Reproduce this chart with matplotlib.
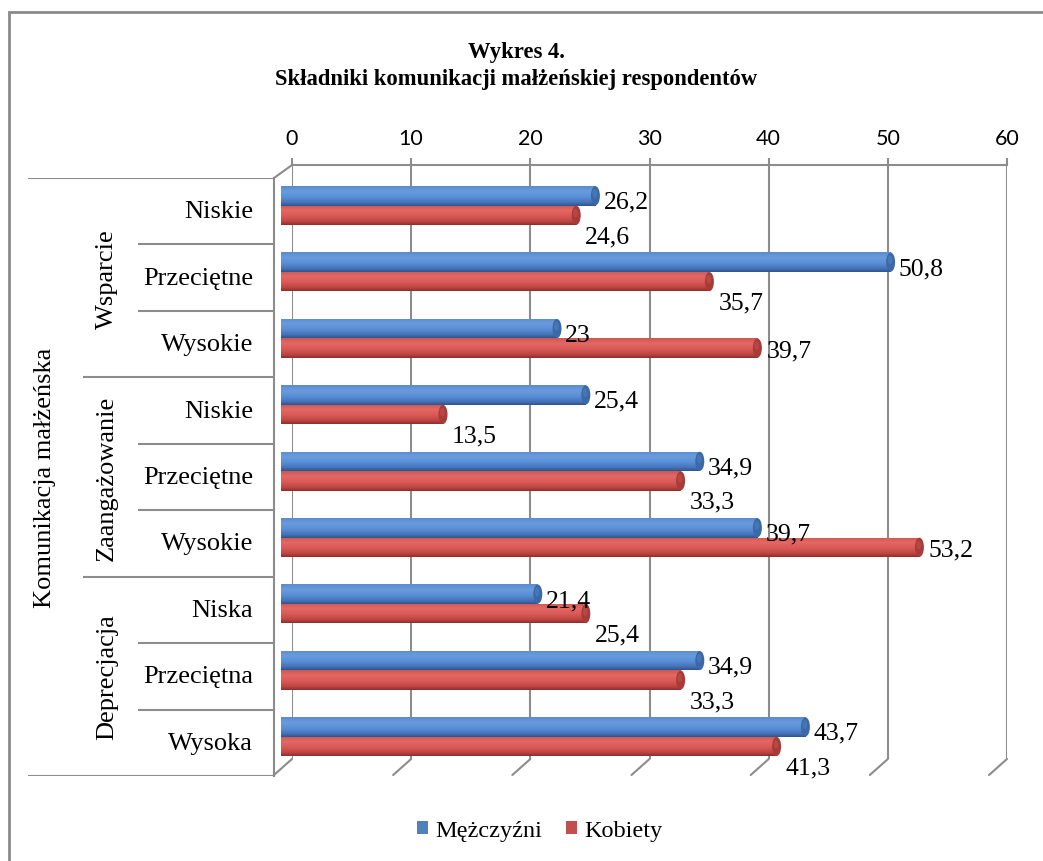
import matplotlib
matplotlib.use("Agg")
import matplotlib.pyplot as plt
import numpy as np
from matplotlib.patches import Rectangle, Ellipse, Patch
from matplotlib.colors import LinearSegmentedColormap

# ---------------- data ----------------
groups = ["Wsparcie", "Zaangażowanie", "Deprecjacja"]
levels = ["Niskie", "Przeciętne", "Wysokie",
          "Niskie", "Przeciętne", "Wysokie",
          "Niska", "Przeciętna", "Wysoka"]
men = [26.2, 50.8, 23.0, 25.4, 34.9, 39.7, 21.4, 34.9, 43.7]
women = [24.6, 35.7, 39.7, 13.5, 33.3, 53.2, 25.4, 33.3, 41.3]
series_names = ["Mężczyźni", "Kobiety"]
xticks = [0, 10, 20, 30, 40, 50, 60]
title = "Wykres 4.\nSkładniki komunikacji małżeńskiej respondentów"
axis_title = "Komunikacja małżeńska"

# ---------------- figure ----------------
W, H = 1043, 862
fig = plt.figure(figsize=(W / 100, H / 100), dpi=100)
fig.patch.set_facecolor("white")


def rect(x0, y0, x1, y1):
    return [x0 / W, 1 - y1 / H, (x1 - x0) / W, (y1 - y0) / H]


GRID = "#8c8c8c"
SERIF = "Liberation Serif"
LAB = 19

# outer chart frame
fig.add_artist(Rectangle((9 / W, 1 - 880 / H), 1060 / W, 867 / H,
                         transform=fig.transFigure, fill=False,
                         edgecolor="#8a8a8a", lw=2))

# title
fig.text(516 / W, 1 - 66 / H, title, ha="center", va="center",
         fontsize=16.3, fontweight="bold", family=SERIF, linespacing=1.4)

# ---------------- back wall (gridlines, top axis) ----------------
axb = fig.add_axes(rect(292, 166, 1007, 760))
axb.set_xlim(0, 60)
axb.set_ylim(0, 1)
for s in ["left", "right", "bottom"]:
    axb.spines[s].set_visible(False)
axb.spines["top"].set_color(GRID)
axb.spines["top"].set_linewidth(1.5)
axb.set_yticks([])
axb.xaxis.tick_top()
axb.set_xticks(xticks)
axb.set_xticklabels([str(t) for t in xticks], family="Lato", fontsize=15.5)
axb.tick_params(axis="x", length=5, width=1.5, color=GRID, pad=7)
axb.grid(axis="x", color=GRID, lw=1.5)
axb.set_facecolor("none")
for t in xticks:
    axb.annotate("", xy=(t, 0), xycoords=("data", "axes fraction"),
                 xytext=(-18, -16), textcoords="offset pixels",
                 arrowprops=dict(arrowstyle="-", color=GRID, lw=1.5,
                                 shrinkA=0, shrinkB=0))
# top-left depth edge
axb.annotate("", xy=(0, 1), xycoords="axes fraction",
             xytext=(-18, -13), textcoords="offset pixels",
             arrowprops=dict(arrowstyle="-", color=GRID, lw=1.5,
                             shrinkA=0, shrinkB=0))

# ---------------- front panel: category labels and brackets ----------------
n = len(levels)
axf = fig.add_axes(rect(0, 179, 274, 777))
axf.set_xlim(0, 1)
axf.set_ylim(n - 0.5, -0.5)
axf.set_facecolor("none")
for s in ["left", "top", "bottom"]:
    axf.spines[s].set_visible(False)
axf.spines["right"].set_color(GRID)
axf.spines["right"].set_linewidth(1.5)
axf.set_xticks([])
axf.set_yticks([])

x_outer, x_group, x_sub = 29 / 274, 84 / 274, 139 / 274
per_group = n // len(groups)
for b in range(n + 1):
    if b == 0 or b == n:
        xm = x_outer
    elif b % per_group == 0:
        xm = x_group
    else:
        xm = x_sub
    axf.axhline(b - 0.5, xmin=xm, xmax=1, color=GRID, lw=1.5)

for i, lab in enumerate(levels):
    axf.text(253 / 274, i, lab, ha="right", va="center",
             fontsize=LAB, family=SERIF)
for g, name in enumerate(groups):
    yc = g * per_group + (per_group - 1) / 2
    axf.text(107 / 274, yc, name, ha="center", va="center", rotation=90,
             fontsize=LAB, family=SERIF)
axf.text(45 / 274, (n - 1) / 2, axis_title, ha="center", va="center",
         rotation=90, fontsize=LAB, family=SERIF)

# ---------------- bars ----------------
ax = fig.add_axes(rect(281, 173.3, 1001, 770.9))
ax.set_xlim(0, 60)
ax.set_ylim(n - 0.5, -0.5)
ax.set_facecolor("none")
ax.axis("off")

h = 0.294
y = np.arange(n)

blue_cmap = LinearSegmentedColormap.from_list(
    "b", [(0, "#5a8bcc"), (0.25, "#6a9bdd"), (0.55, "#5a8fd6"),
          (0.82, "#4674bb"), (1.0, "#2e548b")])
red_cmap = LinearSegmentedColormap.from_list(
    "r", [(0, "#cc5753"), (0.25, "#e46864"), (0.55, "#d95955"),
          (0.82, "#bf4643"), (1.0, "#8e2e2c")])
grad = np.linspace(0, 1, 64).reshape(-1, 1)

series = [(men, y - h / 2, blue_cmap, "#4f81bd", "#3a68a8"),
          (women, y + h / 2, red_cmap, "#c0504d", "#a83b38")]
for vals, ys, cmap, base, cap in series:
    bars = ax.barh(ys, vals, height=h, color=base, lw=0)
    for bar, v, yc in zip(bars, vals, ys):
        im = ax.imshow(grad, cmap=cmap, aspect="auto", origin="upper",
                       extent=(0, v, yc + h / 2, yc - h / 2),
                       interpolation="bilinear", zorder=2)
        im.set_clip_path(bar)
        ax.add_patch(Ellipse((v, yc), width=0.75, height=h * 0.98,
                             facecolor=cap, edgecolor="none", zorder=3))
        ax.add_patch(Ellipse((v - 0.05, yc - h * 0.12), width=0.4,
                             height=h * 0.45, facecolor=base, alpha=0.6,
                             edgecolor="none", zorder=3))
ax.set_xlim(0, 60)
ax.set_ylim(n - 0.5, -0.5)

# value labels
for i in range(n):
    ax.annotate(f"{men[i]:g}".replace(".", ","), xy=(men[i], y[i] - h / 2),
                xytext=(8, -6), textcoords="offset pixels",
                ha="left", va="center", fontsize=18.5, family=SERIF, zorder=5)
    beside = women[i] > men[i] + 5
    dy = -2 if beside else -21
    ax.annotate(f"{women[i]:g}".replace(".", ","), xy=(women[i], y[i] + h / 2),
                xytext=(9, dy), textcoords="offset pixels",
                ha="left", va="center", fontsize=18.5, family=SERIF, zorder=5)

# legend
handles = [Patch(facecolor="#4f81bd", edgecolor="none"),
           Patch(facecolor="#c0504d", edgecolor="none")]
fig.legend(handles, series_names, loc="center",
           bbox_to_anchor=(540 / W, 1 - 832 / H), ncol=2, frameon=False,
           prop={"family": SERIF, "size": 17.5}, handlelength=0.45,
           handleheight=0.45, handletextpad=0.3, columnspacing=1.0)

fig.savefig("out.png", dpi=100, facecolor="white")
